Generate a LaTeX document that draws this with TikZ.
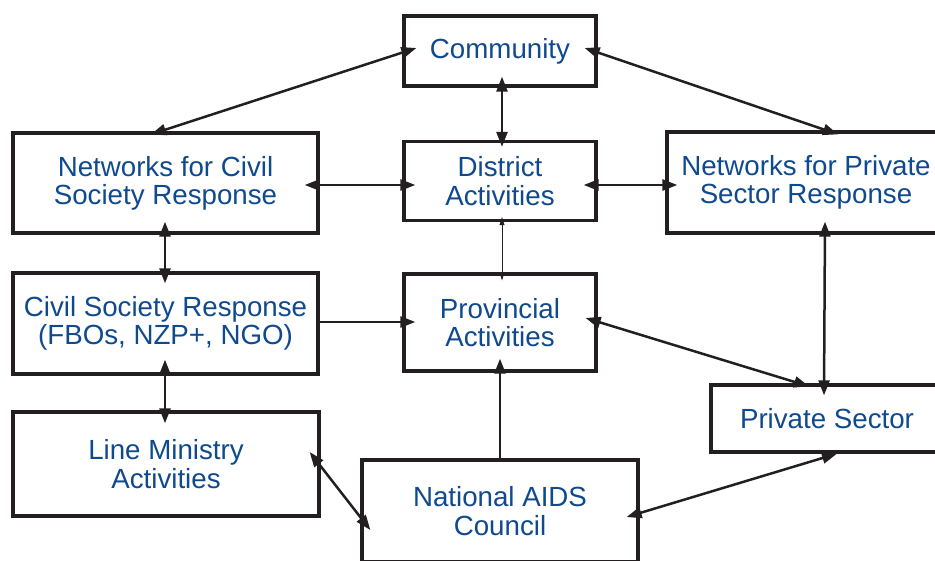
\documentclass[tikz,border=0pt]{standalone}
\usepackage{fontspec}
\setmainfont{Liberation Sans}
\usetikzlibrary{arrows.meta,calc}
\definecolor{boxtext}{RGB}{16,74,142}
\definecolor{ink}{RGB}{35,31,32}
\begin{document}
\begin{tikzpicture}[x=1pt,y=-1pt,
  box/.style={draw=ink, line width=3.3pt, fill=white, text=boxtext,
    align=center, inner sep=0pt, font=\fontsize{27.7}{28.2}\selectfont},
  link/.style={draw=ink, line width=2.5pt, {Triangle[length=15pt,width=11pt]}-{Triangle[length=15pt,width=11pt]}},
  onelink/.style={draw=ink, line width=2.5pt, -{Triangle[length=15pt,width=11pt]}},
  thinlink/.style={draw=ink, line width=0.8pt, {Triangle[length=8pt,width=5pt]}-{Triangle[length=8pt,width=5pt]}}]
\useasboundingbox (0,0) rectangle (935,560);
\clip (0,0) rectangle (935,560);

% boxes
\node[box, minimum width=192pt, minimum height=70pt]  (comm)     at (500,51)    {Community};
\node[box, minimum width=305pt, minimum height=100pt] (netcivil) at (165.5,183) {Networks for Civil\\Society Response};
\node[box, minimum width=192pt, minimum height=79pt]  (district) at (500,181)   {District\\Activities};
\node[box, minimum width=278pt, minimum height=101pt] (netpriv)  at (806,182.5) {Networks for Private\\Sector Response};
\node[box, minimum width=305pt, minimum height=101pt] (civilsoc) at (165.5,323.5) {Civil Society Response\\(FBOs, NZP+, NGO)};
\node[box, minimum width=192pt, minimum height=97pt]  (prov)     at (500,322.5) {Provincial\\Activities};
\node[box, minimum width=232pt, minimum height=67pt]  (private)  at (827,418.5) {Private Sector};
\node[box, minimum width=306pt, minimum height=104pt] (linemin)  at (166,464)   {Line Ministry\\Activities};
\node[box, minimum width=276pt, minimum height=102pt] (nac)      at (500,511)   {National AIDS\\Council};

% connectors
\draw[link] ($(netcivil.north)+(-14.5,3)$) -- ($(comm.west)+(14,-3)$);
\draw[link] ($(comm.east)+(-13,-3)$) -- ($(netpriv.north)+(32,4)$);
\draw[link] ($(comm.south)+(2,-11)$) -- ($(district.north)+(2,7)$);
\draw[link] ($(netcivil.east)+(-15,2)$) -- ($(district.west)+(13,4)$);
\draw[link] ($(district.east)+(-14,4)$) -- ($(netpriv.west)+(12,2.5)$);
\draw[thinlink] ($(district.south)+(2,-5)$) -- ($(prov.north)+(2,8)$);
\draw[link] ($(netcivil.south)+(-0.5,-13)$) -- ($(civilsoc.north)+(-0.5,12)$);
\draw[onelink] ($(civilsoc.east)+(0,-1.5)$) -- ($(prov.west)+(13,-0.5)$);
\draw[link] ($(prov.east)+(-12,-4.5)$) -- ($(private.north)+(-18,3)$);
\draw[link] ($(netpriv.south)+(19,-13)$) -- ($(private.north)+(-3,12)$);
\draw[link] ($(civilsoc.south)+(-0.5,-16)$) -- ($(linemin.north)+(-1,13)$);
\draw[onelink] (nac.north) -- ($(prov.south)+(0,-14)$);
\draw[link] ($(linemin.east)+(-11,-12)$) -- ($(nac.west)+(10,19)$);
\draw[link] ($(private.south)+(10,0)$) -- ($(nac.east)+(-13,6)$);
\end{tikzpicture}
\end{document}
